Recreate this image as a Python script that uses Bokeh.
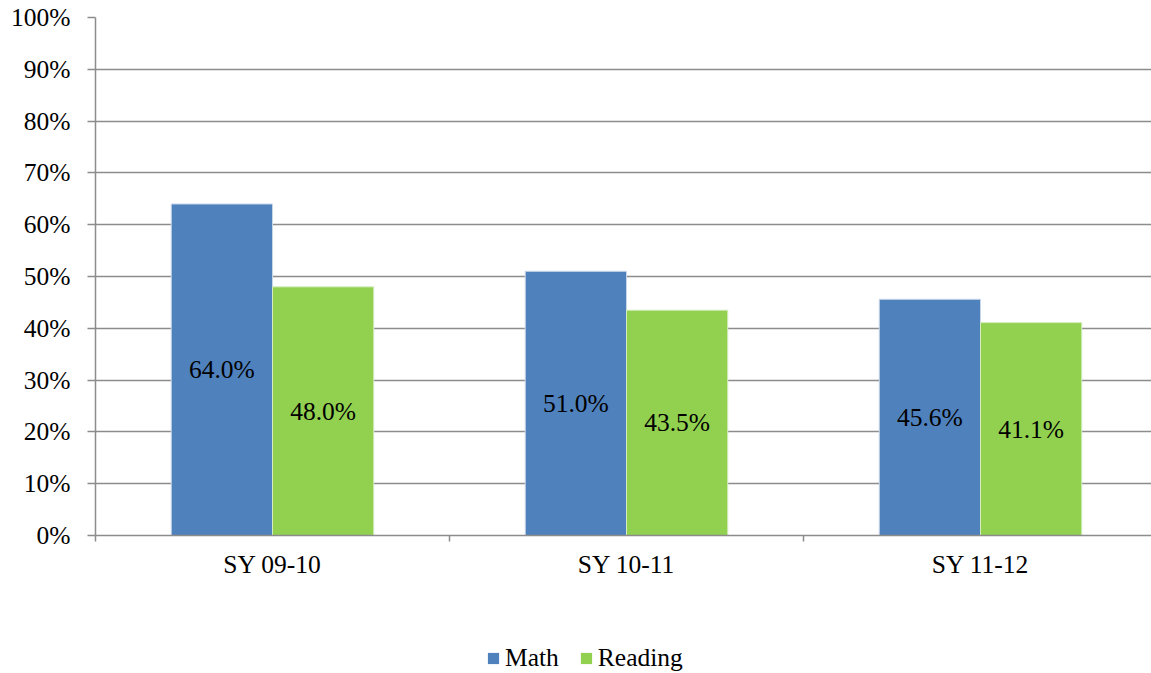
from bokeh.plotting import figure
from bokeh.layouts import column
from bokeh.models import (ColumnDataSource, Range1d, FixedTicker, NumeralTickFormatter,
                          Legend, LegendItem, LabelSet)
from bokeh.core.properties import value
from bokeh.embed import file_html
from bokeh.resources import INLINE

categories = ["SY 09-10", "SY 10-11", "SY 11-12"]
series_names = ["Math", "Reading"]
math_vals = [0.640, 0.510, 0.456]
reading_vals = [0.480, 0.435, 0.411]
y_ticks = [0.0, 0.1, 0.2, 0.3, 0.4, 0.5, 0.6, 0.7, 0.8, 0.9, 1.0]

FONT = "Liberation Serif"
FS = "25.5px"
BLUE = "#4f81bd"
GREEN = "#92d050"
GRID = "#8c8c8c"

bar_w = 0.286
centers = [i + 0.5 for i in range(len(categories))]

math_src = ColumnDataSource(dict(
    x=[c - bar_w / 2 for c in centers], top=math_vals,
    ymid=[v / 2 for v in math_vals],
    label=[f"{v*100:.1f}%" for v in math_vals]))
read_src = ColumnDataSource(dict(
    x=[c + bar_w / 2 for c in centers], top=reading_vals,
    ymid=[v / 2 for v in reading_vals],
    label=[f"{v*100:.1f}%" for v in reading_vals]))

p = figure(width=1151, height=588, output_backend="svg", toolbar_location=None,
           x_range=Range1d(0, 2.983), y_range=Range1d(0, 1),
           min_border_left=95, min_border_right=0, min_border_top=17,
           min_border_bottom=53)
p.outline_line_color = None
p.background_fill_color = "white"
p.border_fill_color = "white"

p.vbar(x="x", top="top", width=bar_w, source=math_src,
       fill_color=BLUE, line_color="#c8d6ea", line_width=1)
p.vbar(x="x", top="top", width=bar_w, source=read_src,
       fill_color=GREEN, line_color="#d6ecc0", line_width=1)

for src in (math_src, read_src):
    p.add_layout(LabelSet(x="x", y="ymid", text="label", source=src,
                          text_align="center", text_baseline="middle",
                          text_font=value(FONT), text_font_size=FS,
                          text_color="black"))

# y axis
p.yaxis.ticker = FixedTicker(ticks=y_ticks)
p.yaxis.formatter = NumeralTickFormatter(format="0%")
p.yaxis.major_label_text_font = FONT
p.yaxis.major_label_text_font_size = FS
p.yaxis.major_label_text_color = "black"
p.yaxis.major_label_standoff = 17
p.yaxis.major_tick_out = 8
p.yaxis.major_tick_in = 0
p.yaxis.minor_tick_line_color = None
p.yaxis.axis_line_color = GRID
p.yaxis.major_tick_line_color = GRID
p.yaxis.axis_line_width = 1.5
p.yaxis.major_tick_line_width = 1.5

# x axis
p.xaxis.ticker = FixedTicker(ticks=centers, minor_ticks=[0, 1, 2, 3])
p.xaxis.major_label_overrides = {c: cat for c, cat in zip(centers, categories)}
p.xaxis.major_tick_line_color = None
p.xaxis.major_tick_out = 0
p.xaxis.major_tick_in = 0
p.xaxis.minor_tick_out = 6
p.xaxis.minor_tick_in = 0
p.xaxis.minor_tick_line_color = GRID
p.xaxis.minor_tick_line_width = 1.5
p.xaxis.axis_line_color = GRID
p.xaxis.axis_line_width = 1.5
p.xaxis.major_label_text_font = FONT
p.xaxis.major_label_text_font_size = FS
p.xaxis.major_label_text_color = "black"
p.xaxis.major_label_standoff = 8

p.xgrid.grid_line_color = None
p.ygrid.ticker = FixedTicker(ticks=y_ticks)
p.ygrid.grid_line_color = GRID
p.ygrid.grid_line_width = 1.5

# legend strip below the chart
lg = figure(width=1151, height=85, output_backend="svg", toolbar_location=None,
            x_range=Range1d(0, 1), y_range=Range1d(0, 1),
            min_border=0, min_border_left=0, min_border_right=0,
            min_border_top=0, min_border_bottom=0)
lg.axis.visible = False
lg.grid.visible = False
lg.outline_line_color = None
lg.border_fill_color = "white"
dummy = ColumnDataSource(dict(x=[-5.0], top=[0.0]))
r_math = lg.vbar(x="x", top="top", width=0.1, source=dummy,
                 fill_color=BLUE, line_color=None)
r_read = lg.vbar(x="x", top="top", width=0.1, source=dummy,
                 fill_color=GREEN, line_color=None)

legend = Legend(items=[LegendItem(label=series_names[0], renderers=[r_math]),
                       LegendItem(label=series_names[1], renderers=[r_read])],
                orientation="horizontal", location=(391, 0),
                label_text_font=FONT, label_text_font_size=FS,
                label_text_color="black",
                glyph_width=14, glyph_height=14, label_standoff=5,
                spacing=20, padding=0, margin=0,
                border_line_color=None, background_fill_alpha=0)
lg.add_layout(legend, "center")

layout = column(p, lg, spacing=0)
open("out.html", "w").write(file_html(layout, INLINE))
